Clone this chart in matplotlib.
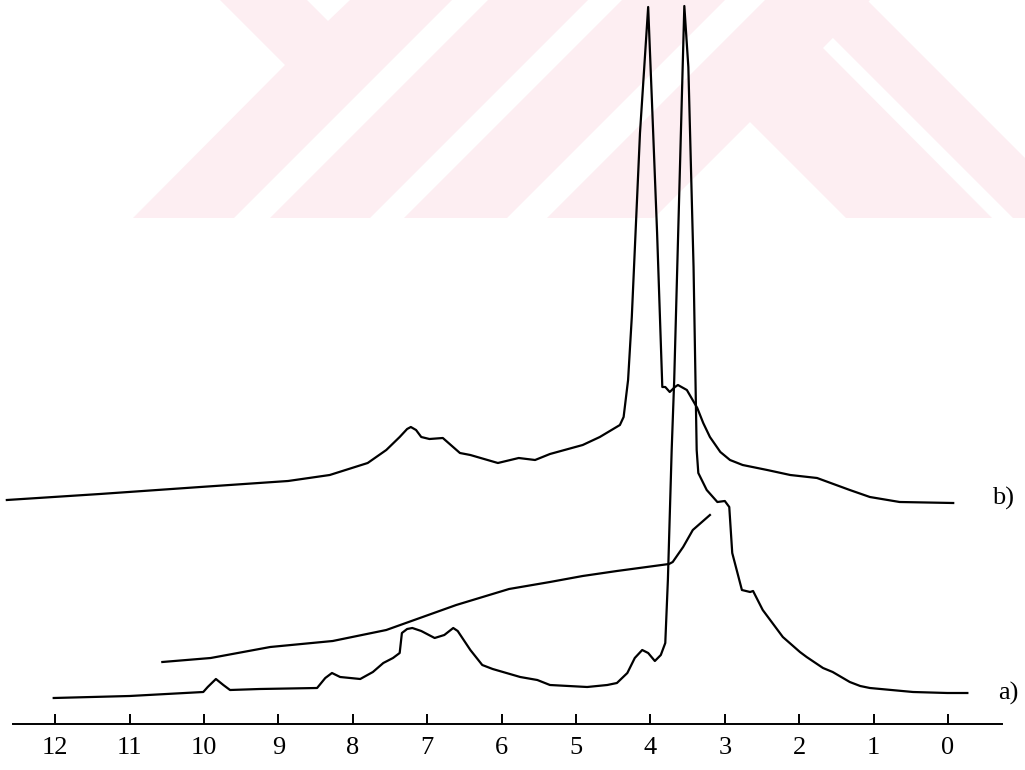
import matplotlib
matplotlib.use("Agg")
from matplotlib import pyplot as plt
from matplotlib import transforms
from matplotlib.patches import Polygon

# widmo a) - ppm i wysokosc sygnalu
a_ppm = [12.02, 11.0, 10.01, 9.95, 9.84, 9.74, 9.65, 9.25, 8.48, 8.37, 8.28, 8.17, 7.90,
         7.73, 7.59, 7.46, 7.37, 7.34, 7.27, 7.20, 7.08, 6.90, 6.77, 6.65, 6.59, 6.42,
         6.26, 6.12, 5.75, 5.52, 5.35, 4.85, 4.58, 4.45, 4.31, 4.21, 4.11, 4.03, 3.94,
         3.86, 3.80, 3.765, 3.714, 3.68, 3.544, 3.49, 3.42, 3.378, 3.356, 3.243, 3.10,
         3.00, 2.94, 2.90, 2.77, 2.66, 2.62, 2.49, 2.22, 1.99, 1.90, 1.68, 1.55, 1.32,
         1.18, 1.05, 0.47, 0.01, -0.26]
a_int = [26, 28, 32, 37, 45, 39, 34, 35, 36, 46, 51, 47, 45,
         52, 61, 66, 71, 91, 95, 96, 93, 86, 89, 96, 93, 74,
         59, 55, 47, 44, 39, 37, 39, 41, 51, 66, 74, 71, 63,
         69, 81, 144, 274, 344, 718, 657, 457, 274, 251, 234, 222,
         223, 217, 171, 134, 132, 133, 114, 87, 72, 67, 56, 52, 42,
         38, 36, 32, 31, 31]

# widmo b)
b_ppm = [12.65, 11.40, 10.05, 8.87, 8.31, 7.80, 7.55, 7.37, 7.27, 7.22, 7.15, 7.08, 6.97,
         6.79, 6.56, 6.42, 6.05, 5.77, 5.55, 5.35, 4.91, 4.68, 4.41, 4.36, 4.30, 4.25,
         4.14, 4.03, 3.98, 3.91, 3.84, 3.80, 3.74, 3.67, 3.63, 3.51, 3.37, 3.29, 3.20,
         3.06, 2.93, 2.76, 2.43, 2.12, 1.76, 1.32, 1.05, 0.65, -0.07]
b_int = [224, 230, 237, 243, 249, 261, 274, 287, 295, 297, 294, 287, 285,
         286, 271, 269, 261, 266, 264, 270, 279, 287, 299, 307, 344, 407,
         591, 717, 624, 491, 337, 337, 332, 337, 339, 334, 316, 301, 287,
         272, 264, 259, 254, 249, 246, 234, 227, 222, 221]

# krzywa calkowania
c_ppm = [10.56, 9.91, 9.11, 8.27, 7.55, 6.61, 5.90, 5.35, 4.91, 4.45, 3.75, 3.70, 3.56, 3.43, 3.20]
c_int = [62, 66, 77, 83, 94, 119, 135, 142, 148, 153, 160, 162, 177, 194, 209]

ticks = list(range(0, 13))
tick_labels = [str(t) for t in ticks]

fig = plt.figure(figsize=(10.25, 7.7), dpi=100)
ax = fig.add_axes([0, 0, 1, 1])
ax.patch.set_alpha(0)

# znak wodny (piksele obrazu)
px = transforms.Affine2D().scale(1 / 1025, -1 / 770).translate(0, 1) + fig.transFigure
pink = "#fdeef2"
shapes = [
    [(133, 218), (285, 65), (220, 0), (307, 0), (328, 21), (350, 0), (452, 0), (234, 218)],
    [(270, 218), (488, 0), (588, 0), (370, 218)],
    [(404, 218), (622, 0), (725, 0), (507, 218)],
    [(547, 218), (765, 0), (870, 0), (823, 48), (992, 218), (846, 218), (750, 122), (654, 218)],
    [(795, 0), (867, 0), (1025, 158), (1025, 230), (1013, 218), (843, 48)],
]
for s in shapes:
    ax.add_patch(Polygon(s, closed=True, facecolor=pink, edgecolor="none",
                         transform=px, zorder=0))
ax.add_patch(Polygon([(0, 218), (1025, 218), (1025, 240), (0, 240)], facecolor="white",
                     edgecolor="none", transform=px, zorder=0.5))

ax.plot(a_ppm, a_int, color="black", lw=1.6, zorder=3)
ax.plot(b_ppm, b_int, color="black", lw=1.6, zorder=3)
ax.plot(c_ppm, c_int, color="black", lw=1.6, zorder=3)

ax.set_xlim(12.742, -1.035)
ax.set_ylim(-46, 724)

for side in ["left", "right", "top"]:
    ax.spines[side].set_visible(False)
ax.spines["bottom"].set_position(("data", 0))
ax.spines["bottom"].set_bounds(12.567, -0.726)
ax.spines["bottom"].set_linewidth(1.4)
ax.set_yticks([])
ax.set_xticks(ticks)
ax.set_xticklabels(tick_labels, family="Liberation Serif", fontsize=19)
ax.tick_params(axis="x", direction="in", length=7.5, width=1.4, pad=9)

ax.text(-0.81, 31, "a)", family="Liberation Serif", fontsize=19, ha="center", va="center")
ax.text(-0.74, 226, "b)", family="Liberation Serif", fontsize=19, ha="center", va="center")

plt.savefig("out.png", dpi=100)
plt.close()
